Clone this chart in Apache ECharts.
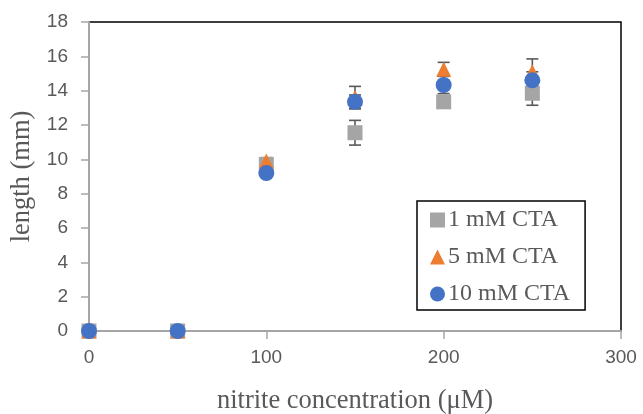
<!DOCTYPE html>
<html>
<head>
<meta charset="utf-8">
<script src="https://cdn.jsdelivr.net/npm/echarts@6/dist/echarts.min.js"></script>
<style>
  html, body { margin: 0; padding: 0; background: #fff; }
  #chart { width: 643px; height: 414px; }
</style>
</head>
<body>
<div id="chart"></div>
<script>
// Nitrite concentration (µM) on the x axis
var concentrations = [0, 50, 100, 150, 200, 250];

// Mean length (mm) and its standard deviation for each CTA concentration
var seriesNames = ['1 mM CTA', '5 mM CTA', '10 mM CTA'];
var length1mM  = [0, 0, 9.7, 11.55, 13.35, 13.85];
var error1mM   = [0, 0, 0.2, 0.72, 0.3, 0.7];
var length5mM  = [0, 0, 9.9, 13.6, 15.25, 15.1];
var error5mM   = [0, 0, 0.2, 0.65, 0.4, 0.75];
var length10mM = [0, 0, 9.2, 13.35, 14.33, 14.6];
var error10mM  = [0, 0, 0.2, 0.4, 0.5, 0.5];

var yTicks = { min: 0, max: 18, interval: 2 };
var xTicks = { min: 0, max: 300, interval: 100 };

var textColor = '#595959';
var colors = ['#a5a5a5', '#ed7d31', '#4472c4'];
var symbols = ['rect', 'triangle', 'circle'];
var symbolSizes = [[15, 15], [15, 15], 16];

var means = [length1mM, length5mM, length10mM];
var errors = [error1mM, error5mM, error10mM];

function pairs(xs, ys) {
  return xs.map(function (x, i) { return [x, ys[i]]; });
}

function errorBarSeries(ys, es) {
  var data = concentrations.map(function (x, i) {
    return [x, ys[i] - es[i], ys[i] + es[i]];
  });
  return {
    type: 'custom',
    silent: true,
    z: 1,
    encode: { x: 0, y: [1, 2] },
    data: data,
    renderItem: function (params, api) {
      var x = api.value(0);
      var lo = api.coord([x, api.value(1)]);
      var hi = api.coord([x, api.value(2)]);
      var half = 6;
      var style = { stroke: '#595959', lineWidth: 1.6 };
      return {
        type: 'group',
        children: [
          { type: 'line', shape: { x1: lo[0], y1: lo[1], x2: hi[0], y2: hi[1] }, style: style },
          { type: 'line', shape: { x1: hi[0] - half, y1: hi[1], x2: hi[0] + half, y2: hi[1] }, style: style },
          { type: 'line', shape: { x1: lo[0] - half, y1: lo[1], x2: lo[0] + half, y2: lo[1] }, style: style }
        ]
      };
    }
  };
}

var series = [];
for (var i = 0; i < 3; i++) {
  series.push(errorBarSeries(means[i], errors[i]));
}
for (var j = 0; j < 3; j++) {
  series.push({
    name: seriesNames[j],
    type: 'scatter',
    z: 3 + j,
    symbol: symbols[j],
    symbolSize: symbolSizes[j],
    itemStyle: { color: colors[j], opacity: 1 },
    data: pairs(concentrations, means[j])
  });
}

var chart = echarts.init(document.getElementById('chart'), null, { renderer: 'canvas' });
chart.setOption({
  animation: false,
  backgroundColor: '#ffffff',
  grid: {
    left: 89, top: 22, right: 22, bottom: 83,
    outerBoundsMode: 'none',
    containLabel: false,
    show: true, borderColor: '#000000', borderWidth: 1.5
  },
  xAxis: {
    type: 'value',
    min: xTicks.min, max: xTicks.max, interval: xTicks.interval,
    name: 'nitrite concentration (\u03bcM)',
    nameLocation: 'middle',
    nameGap: 57,
    nameTextStyle: { fontFamily: 'Liberation Serif', fontSize: 26.5, color: textColor },
    axisLine: { show: true, onZero: false, lineStyle: { color: '#a6a6a6', width: 2 } },
    axisTick: { show: true, inside: false, length: 8, lineStyle: { color: '#a6a6a6', width: 1.5 } },
    axisLabel: { margin: 17, fontFamily: 'Liberation Sans', fontSize: 19, color: textColor },
    splitLine: { show: false }
  },
  yAxis: {
    type: 'value',
    min: yTicks.min, max: yTicks.max, interval: yTicks.interval,
    name: 'length (mm)',
    nameLocation: 'middle',
    nameGap: 50,
    nameRotate: 90,
    nameTextStyle: { fontFamily: 'Liberation Serif', fontSize: 26.5, color: textColor },
    axisLine: { show: true, lineStyle: { color: '#a6a6a6', width: 2 } },
    axisTick: { show: true, inside: false, length: 8, lineStyle: { color: '#a6a6a6', width: 1.5 } },
    axisLabel: { margin: 21, fontFamily: 'Liberation Sans', fontSize: 19, color: textColor },
    splitLine: { show: false }
  },
  legend: {
    orient: 'vertical',
    left: 417,
    top: 201,
    padding: [7, 15, 4, 13],
    borderColor: '#000000',
    borderWidth: 1.5,
    itemWidth: 15,
    itemHeight: 15,
    itemGap: 13,
    selectedMode: false,
    textStyle: { fontFamily: 'Liberation Serif', fontSize: 24, color: textColor, padding: [0, 0, 0, -2] },
    data: seriesNames.map(function (n, k) {
      return { name: n, icon: symbols[k] };
    })
  },
  series: series
});
</script>
</body>
</html>
